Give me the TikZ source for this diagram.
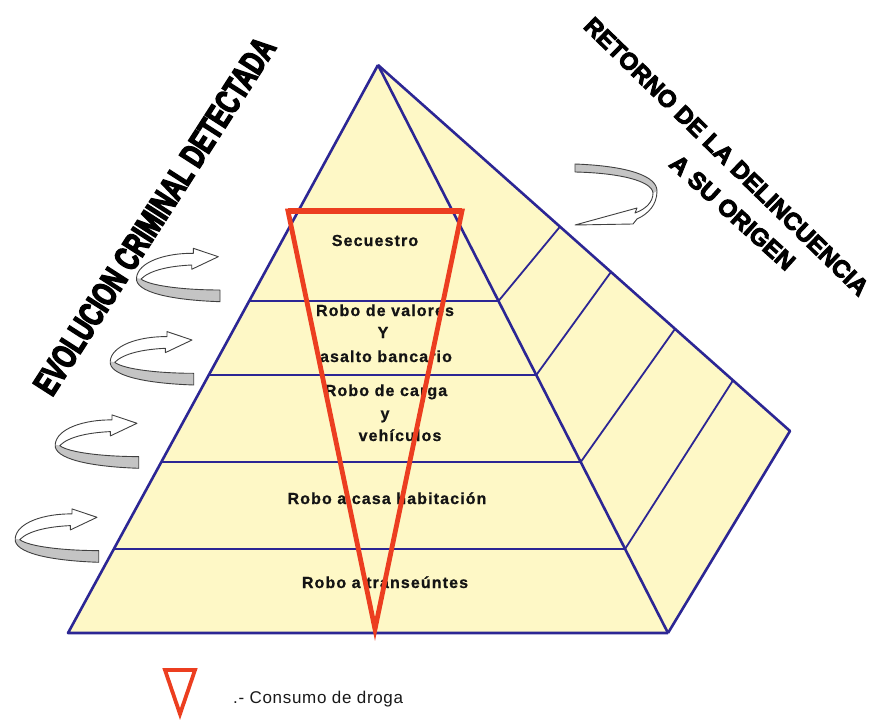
\documentclass[tikz,border=0pt]{standalone}
\usepackage{fontspec}
\setmainfont{Liberation Sans}
\newfontfamily\pyrfont{Liberation Sans}[LetterSpace=7,FakeBold=0.8]
\newfontfamily\legfont{Liberation Sans}[LetterSpace=4]
\newfontfamily\impfont{Liberation Sans}[FakeStretch=0.68,FakeBold=4]
\newfontfamily\retfont{Liberation Sans}[FakeBold=4]
\usetikzlibrary{calc}
\definecolor{pyrfill}{RGB}{254,248,198}
\definecolor{pyrblue}{RGB}{44,38,148}
\definecolor{pyrred}{RGB}{236,62,32}
\definecolor{bandgray}{RGB}{196,196,196}
\tikzset{
  curl/.pic={
    \fill[white] (0,0) -- (-25,-8.4) -- (-25,-3.4)
      .. controls (-53,-3.7) and (-80.5,5.3) .. (-81.8,21.3)
      .. controls (-83.3,35.3) and (-48.3,43.3) .. (1.7,45)
      -- (1.7,33.3)
      .. controls (-33.3,33.3) and (-68.3,29.3) .. (-77.3,22.3)
      .. controls (-68.3,13.3) and (-48.3,9.3) .. (-26.6,8.3)
      -- (-26.6,12.6) -- cycle;
    \fill[bandgray] (-81.8,21.3)
      .. controls (-83.3,35.3) and (-48.3,43.3) .. (1.7,45)
      -- (1.7,33.3)
      .. controls (-33.3,33.3) and (-68.3,29.3) .. (-77.3,22.3) -- cycle;
    \draw[arrline] (0,0) -- (-25,-8.4) -- (-25,-3.4)
      .. controls (-53,-3.7) and (-80.5,5.3) .. (-81.8,21.3)
      .. controls (-83.3,35.3) and (-48.3,43.3) .. (1.7,45)
      -- (1.7,33.3)
      .. controls (-33.3,33.3) and (-68.3,29.3) .. (-77.3,22.3)
      .. controls (-68.3,13.3) and (-48.3,9.3) .. (-26.6,8.3)
      -- (-26.6,12.6) -- cycle;
  },
  arrline/.style={draw=black!75, line width=0.9pt, line join=round},
  blueline/.style={draw=pyrblue, line width=2.6pt, line join=round},
  levelline/.style={draw=pyrblue, line width=1.8pt},
  pyrtext/.style={font=\pyrfont\bfseries\fontsize{16}{19}\selectfont, inner sep=0pt, anchor=base, text=black!92},
}
\begin{document}
\begin{tikzpicture}[x=1pt,y=-1pt]
\fill[white] (0,0) rectangle (871,720);
\useasboundingbox (0,0) rectangle (871,720);

% main points
\coordinate (apex) at (378,65);
\coordinate (bl) at (68,633);
\coordinate (br) at (668,633);
\coordinate (back) at (790,431);

% faces
\fill[pyrfill] (apex) -- (back) -- (br) -- cycle;
\fill[pyrfill] (apex) -- (bl) -- (br) -- cycle;

% level points
\foreach \i/\t in {1/0.4155,2/0.5458,3/0.699,4/0.852}{
  \coordinate (L\i) at ($(apex)!\t!(bl)$);
  \coordinate (R\i) at ($(apex)!\t!(br)$);
}
\foreach \i/\s in {1/0.4417,2/0.5655,3/0.721,4/0.8617}{
  \coordinate (B\i) at ($(apex)!\s!(back)$);
}

% texts
\node[pyrtext] (t1) at (375,246) {Secuestro};
\node[pyrtext] (t2) at (385,316) {Robo de valores};
\node[pyrtext] (t3) at (383,338) {Y};
\node[pyrtext] (t4) at (386,362) {asalto bancario};
\node[pyrtext] (t5) at (386,396) {Robo de carga};
\node[pyrtext] (t6) at (385,419) {y};
\node[pyrtext] (t7) at (400,441) {vehículos};
\node[pyrtext] (t8) at (387,504) {Robo a casa habitación};
\node[pyrtext] (t9) at (385,588) {Robo a transeúntes};

% level lines and side lines
\foreach \i in {1,2,3,4}{
  \draw[levelline] (L\i) -- (R\i);
  \draw[levelline] (R\i) -- (B\i);
}
% outlines
\draw[blueline] (apex) -- (bl) -- (br);
\draw[blueline] (apex) -- (br);
\draw[blueline] (apex) -- (back) -- (br);

% red triangle
\coordinate (rtl) at (288,211);
\coordinate (rtr) at (462,211);
\coordinate (rbt) at (375,629);
\draw[pyrred, line width=4.8pt, line join=miter, miter limit=20] (rtl) -- (rtr) -- (rbt) -- cycle;
\draw[pyrred, line width=6pt] (rtl) -- (rtr);

% curved arrows on the left
\pic at (218.3,256.7) {curl};
\pic at (192,340) {curl};
\pic at (137,423.3) {curl};
\pic at (97,517.3) {curl};

% curved arrow on the right
\fill[white] (575,225) -- (637,208) -- (635,213)
  .. controls (646,209) and (653,202) .. (653,193)
  .. controls (652,181) and (620,173) .. (575,172)
  -- (575,164)
  .. controls (628,166) and (657,176) .. (657,191)
  .. controls (657,205) and (648,214) .. (637,219)
  -- (633,224) -- cycle;
\fill[bandgray] (575,164)
  .. controls (628,166) and (657,176) .. (657,191)
  -- (653,193)
  .. controls (652,181) and (620,173) .. (575,172) -- cycle;
\draw[arrline] (575,225) -- (637,208) -- (635,213)
  .. controls (646,209) and (653,202) .. (653,193)
  .. controls (652,181) and (620,173) .. (575,172)
  -- (575,164)
  .. controls (628,166) and (657,176) .. (657,191)
  .. controls (657,205) and (648,214) .. (637,219)
  -- (633,224) -- cycle;

% rotated titles
\node[rotate=57.3, inner sep=0pt, font=\impfont\bfseries\fontsize{35}{35}\selectfont] (evol) at (154.5,216) {EVOLUCION CRIMINAL DETECTADA};
\node[rotate=-44.3, inner sep=0pt, font=\retfont\bfseries\fontsize{24}{24}\selectfont] (ret1) at (726.5,156.5) {RETORNO DE LA DELINCUENCIA};
\node[rotate=-42, inner sep=0pt, font=\retfont\bfseries\fontsize{24}{24}\selectfont] (ret2) at (732.5,212.5) {A SU ORIGEN};

% legend
\coordinate (g1) at (165,670);
\coordinate (g2) at (195,670);
\coordinate (g3) at (180,714);
\draw[pyrred, line width=3.8pt, line join=miter] (g1) -- (g2) -- (g3) -- cycle;
\node[inner sep=0pt, anchor=base west, font=\legfont\fontsize{17}{20}\selectfont, text=black!90] (leg) at (233,703) {.- Consumo de droga};
\end{tikzpicture}
\end{document}
